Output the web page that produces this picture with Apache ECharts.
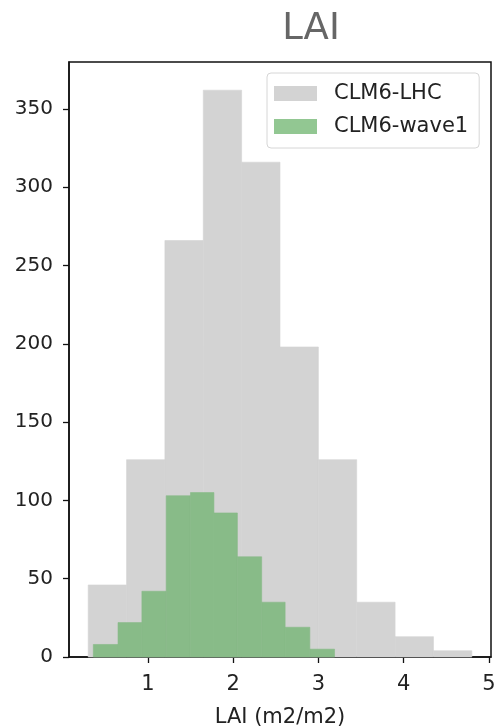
<!DOCTYPE html>
<html>
<head>
<meta charset="utf-8">
<script src="https://cdn.jsdelivr.net/npm/echarts@6/dist/echarts.min.js"></script>
<style>
  html, body { margin: 0; padding: 0; background: #fff; }
  #chart { width: 496px; height: 726px; }
</style>
</head>
<body>
<div id="chart"></div>
<script>
// Histogram bin edges and counts for the two ensembles
const lhcEdges = [0.30, 0.75, 1.20, 1.65, 2.10, 2.55, 3.00, 3.45, 3.90, 4.35, 4.80];
const lhcCounts = [46, 126, 266, 362, 316, 198, 126, 35, 13, 4];

const wave1Edges = [0.36, 0.65, 0.93, 1.215, 1.50, 1.775, 2.05, 2.335, 2.61, 2.90, 3.19];
const wave1Counts = [8, 22, 42, 103, 105, 92, 64, 35, 19, 5];

const xTicks = [1, 2, 3, 4, 5];
const yTicks = [0, 50, 100, 150, 200, 250, 300, 350];

const FONT = 'DejaVu Sans';

function toBins(edges, counts) {
  return counts.map((c, i) => [edges[i], edges[i + 1], c]);
}

// One filled rectangle per bin, from the left edge to the right edge, up to the count
function histRender(params, api) {
  const p0 = api.coord([api.value(0), 0]);
  const p1 = api.coord([api.value(1), api.value(2)]);
  const color = api.visual('color');
  return {
    type: 'rect',
    shape: { x: p0[0], y: p1[1], width: p1[0] - p0[0], height: p0[1] - p1[1] },
    style: { fill: color, stroke: color, lineWidth: 0.6 }
  };
}

const chart = echarts.init(document.getElementById('chart'), null, { renderer: 'canvas' });

chart.setOption({
  animation: false,
  backgroundColor: '#ffffff',
  title: {
    text: 'LAI',
    left: 306,
    textAlign: 'center',
    top: 6,
    textStyle: { fontFamily: FONT, fontSize: 37, fontWeight: 'normal', color: '#666666' }
  },
  legend: {
    orient: 'vertical',
    left: 267,
    top: 73,
    padding: [10, 11, 11, 7],
    itemWidth: 43,
    itemHeight: 15,
    itemGap: 12,
    backgroundColor: '#ffffff',
    borderColor: '#d6d6d6',
    borderWidth: 1,
    borderRadius: 4,
    textStyle: { fontFamily: FONT, fontSize: 21, color: '#222222', padding: [0, 0, 0, 12] },
    data: [
      { name: 'CLM6-LHC', icon: 'rect', itemStyle: { color: '#d3d3d3' } },
      { name: 'CLM6-wave1', icon: 'rect', itemStyle: { color: '#92c792' } }
    ]
  },
  grid: {
    left: 69,
    right: 5,
    top: 62,
    bottom: 69,
    containLabel: false,
    outerBoundsMode: 'none',
    show: true,
    borderColor: '#111111',
    borderWidth: 1.5,
    backgroundColor: 'transparent'
  },
  xAxis: {
    type: 'value',
    min: 0.075,
    max: 5.025,
    name: 'LAI (m2/m2)',
    nameLocation: 'middle',
    nameGap: 50,
    nameTextStyle: { fontFamily: FONT, fontSize: 21, color: '#222222' },
    splitLine: { show: false },
    axisLine: { show: true, lineStyle: { color: '#111111', width: 1.5 } },
    axisTick: { show: true, customValues: xTicks, length: 6, inside: false, lineStyle: { color: '#111111', width: 1.3 } },
    axisLabel: { customValues: xTicks, fontFamily: FONT, fontSize: 21, color: '#222222', margin: 17 }
  },
  yAxis: {
    type: 'value',
    min: 0,
    max: 380,
    splitLine: { show: false },
    axisLine: { show: true, lineStyle: { color: '#111111', width: 1.5 } },
    axisTick: { show: true, customValues: yTicks, length: 6, inside: false, lineStyle: { color: '#111111', width: 1.3 } },
    axisLabel: { customValues: yTicks, fontFamily: FONT, fontSize: 20, color: '#222222', margin: 16 }
  },
  series: [
    {
      name: 'CLM6-LHC',
      type: 'custom',
      renderItem: histRender,
      itemStyle: { color: '#d3d3d3' },
      encode: { x: [0, 1], y: 2 },
      data: toBins(lhcEdges, lhcCounts),
      z: 1
    },
    {
      name: 'CLM6-wave1',
      type: 'custom',
      renderItem: histRender,
      itemStyle: { color: '#88bb88' },
      encode: { x: [0, 1], y: 2 },
      data: toBins(wave1Edges, wave1Counts),
      z: 2
    }
  ]
});
</script>
</body>
</html>
